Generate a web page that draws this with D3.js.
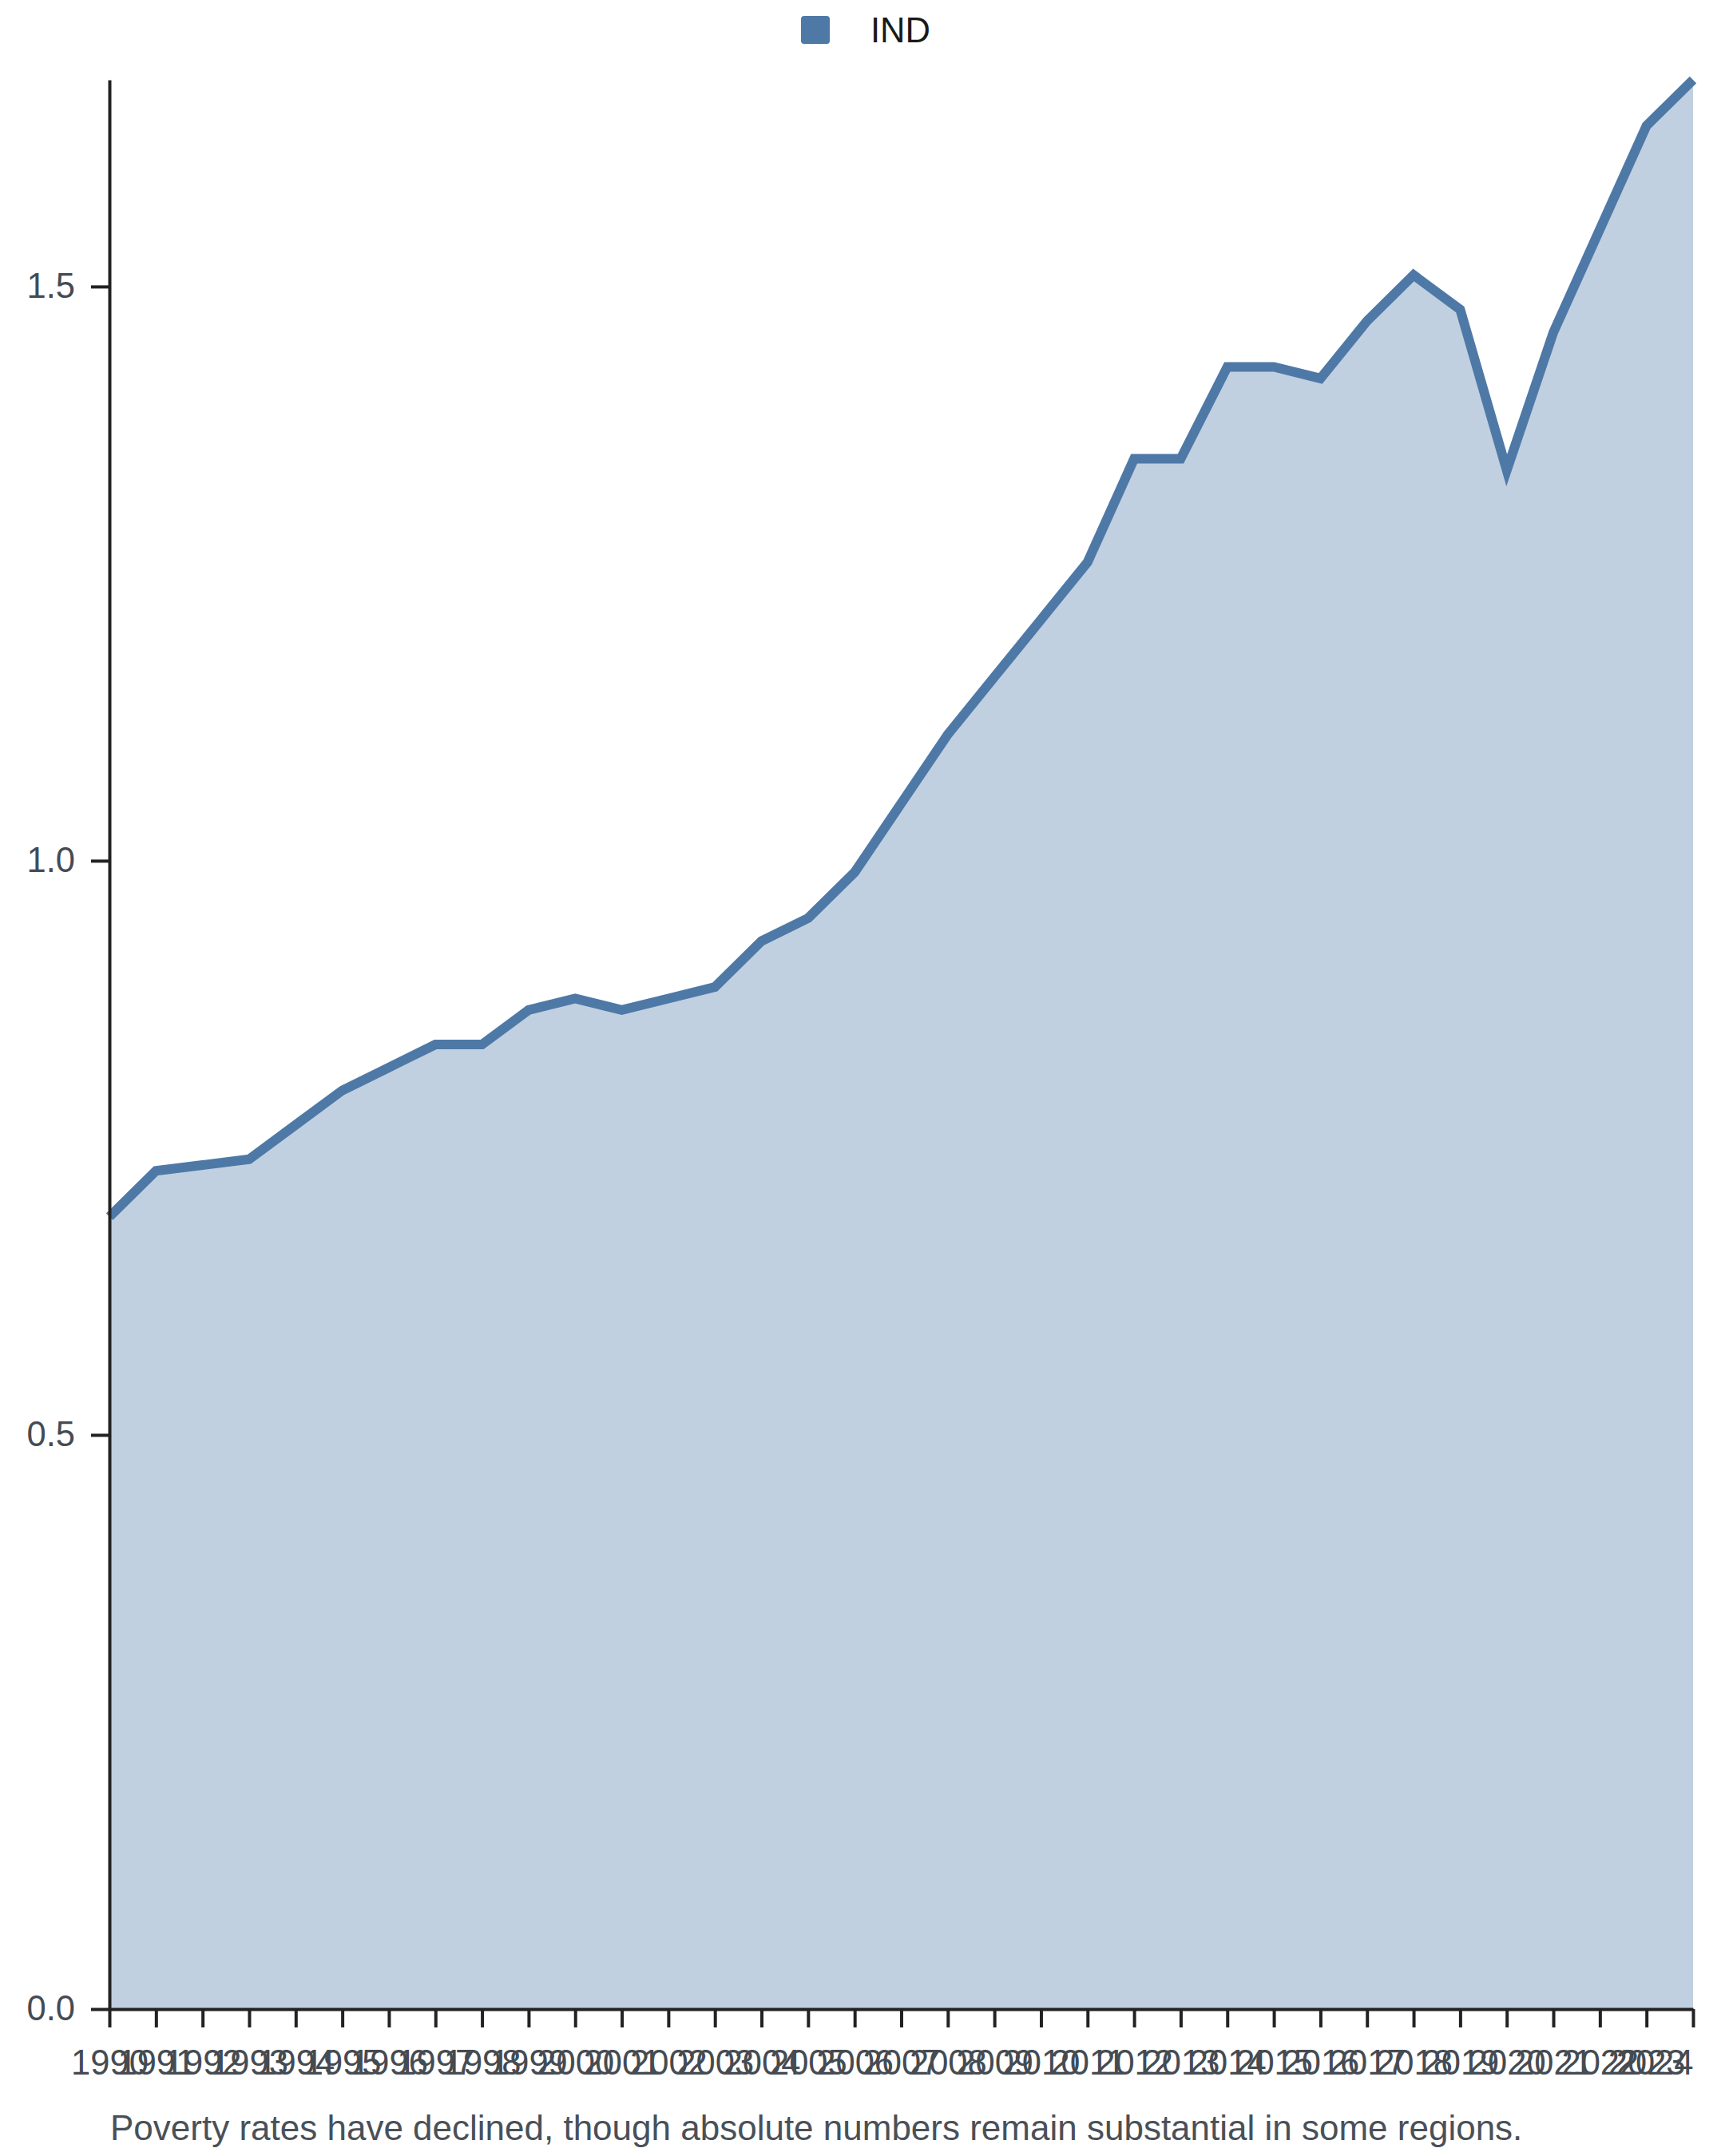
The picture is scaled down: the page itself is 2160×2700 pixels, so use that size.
<!DOCTYPE html>
<html>
<head>
<meta charset="utf-8">
<script src="https://cdn.jsdelivr.net/npm/d3@7"></script>
<style>
  body { margin: 0; background: #fff; }
  svg { display: block; font-family: "Liberation Sans", Arial, sans-serif; }
</style>
</head>
<body>
<svg id="chart" width="2160" height="2700"></svg>
<script>
const years = [1990, 1991, 1992, 1993, 1994, 1995, 1996, 1997, 1998, 1999,
  2000, 2001, 2002, 2003, 2004, 2005, 2006, 2007, 2008, 2009,
  2010, 2011, 2012, 2013, 2014, 2015, 2016, 2017, 2018, 2019,
  2020, 2021, 2022, 2023, 2024];

const indValues = [0.69, 0.73, 0.735, 0.74, 0.77, 0.80, 0.82, 0.84, 0.84, 0.87,
  0.88, 0.87, 0.88, 0.89, 0.93, 0.95, 0.99, 1.05, 1.11, 1.16,
  1.21, 1.26, 1.35, 1.35, 1.43, 1.43, 1.42, 1.47, 1.51, 1.48,
  1.34, 1.46, 1.55, 1.64, 1.68];

const seriesName = "IND";
const yTicks = [0, 0.5, 1.0, 1.5];
const caption = "Poverty rates have declined, though absolute numbers remain substantial in some regions.";

const svg = d3.select("#chart");
const margin = { top: 100, right: 40, bottom: 184, left: 137 };
const width = +svg.attr("width");
const height = +svg.attr("height");
const innerWidth = width - margin.left - margin.right;
const innerHeight = height - margin.top - margin.bottom;

const color = "#4e79a7";
const fontSize = "43.5px";

const data = years.map((y, i) => ({ year: y, value: indValues[i] }));

const x = d3.scalePoint()
  .domain(years)
  .range([0, innerWidth]);

const y = d3.scaleLinear()
  .domain([0, d3.max(indValues)])
  .range([innerHeight, 0]);

const g = svg.append("g")
  .attr("transform", `translate(${margin.left},${margin.top})`);

// area + line
const area = d3.area()
  .x(d => x(d.year))
  .y0(innerHeight)
  .y1(d => y(d.value));

const line = d3.line()
  .x(d => x(d.year))
  .y(d => y(d.value));

g.append("path")
  .datum(data)
  .attr("d", area)
  .attr("fill", color)
  .attr("fill-opacity", 0.35);

g.append("path")
  .datum(data)
  .attr("d", line)
  .attr("fill", "none")
  .attr("stroke", color)
  .attr("stroke-width", 12)
  .attr("stroke-linejoin", "miter");

// axes
const xAxis = d3.axisBottom(x)
  .tickSize(23)
  .tickSizeOuter(0)
  .tickPadding(28)
  .tickFormat(d => String(d));

const yAxis = d3.axisLeft(y)
  .tickValues(yTicks)
  .tickSize(23)
  .tickSizeOuter(0)
  .tickPadding(20)
  .tickFormat(d3.format(".1f"));

const gx = g.append("g")
  .attr("transform", `translate(0,${innerHeight})`)
  .call(xAxis);

const gy = g.append("g")
  .call(yAxis);

[gx, gy].forEach(ax => {
  ax.selectAll(".domain").attr("stroke", "#222").attr("stroke-width", 4);
  ax.selectAll(".tick line").attr("stroke", "#222").attr("stroke-width", 4);
  ax.selectAll(".tick text")
    .attr("fill", "#454b52")
    .style("font-size", fontSize)
    .style("font-family", "\"Liberation Sans\", Arial, sans-serif");
});

// last year label is pulled inside the right edge
gx.selectAll(".tick text")
  .filter(d => d === years[years.length - 1])
  .attr("text-anchor", "end");

// legend
const legend = svg.append("g")
  .attr("transform", "translate(1003,20)");

legend.append("rect")
  .attr("width", 36)
  .attr("height", 35)
  .attr("rx", 4)
  .attr("fill", color);

legend.append("text")
  .attr("x", 87)
  .attr("y", 33)
  .attr("text-anchor", "start")
  .attr("fill", "#1a1a1a")
  .style("font-size", fontSize)
  .text(seriesName);

// caption
svg.append("text")
  .attr("x", margin.left + 1)
  .attr("y", 2680)
  .attr("fill", "#4a5058")
  .style("font-size", "44px")
  .text(caption);
</script>
</body>
</html>
